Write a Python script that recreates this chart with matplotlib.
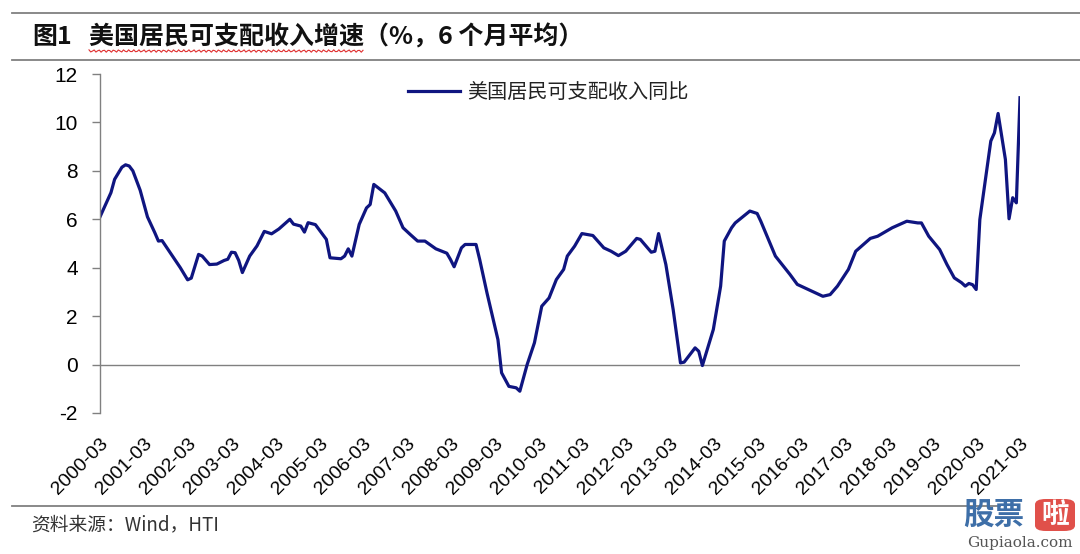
import numpy as np
import matplotlib
matplotlib.use("Agg")
import matplotlib.pyplot as plt
from matplotlib.lines import Line2D
from matplotlib.patches import FancyBboxPatch

plt.rcParams['font.family'] = ['Liberation Sans', 'Noto Sans CJK SC', 'DejaVu Sans']

# ---- data ----
dates = ["2000-03", "2000-06", "2000-07", "2000-09", "2000-10", "2000-11", "2000-12", "2001-02",
         "2001-04", "2001-06", "2001-07",
         "2001-08", "2001-11", "2002-01", "2002-03", "2002-04", "2002-06", "2002-07", "2002-09",
         "2002-11", "2003-01", "2003-02", "2003-03", "2003-04", "2003-05", "2003-06", "2003-08",
         "2003-10", "2003-12", "2004-02", "2004-04", "2004-07", "2004-08", "2004-10", "2004-11",
         "2004-12", "2005-02", "2005-04", "2005-05", "2005-06", "2005-09", "2005-10", "2005-11",
         "2005-12", "2006-02", "2006-04", "2006-05", "2006-06", "2006-09", "2006-12", "2007-02",
         "2007-04", "2007-06", "2007-08", "2007-11", "2008-02", "2008-03", "2008-04", "2008-06",
         "2008-07", "2008-10", "2008-11", "2009-01", "2009-04", "2009-05", "2009-07", "2009-09",
         "2009-10", "2009-12", "2010-02", "2010-04", "2010-06", "2010-08", "2010-09", "2010-10",
         "2010-11", "2011-01", "2011-03", "2011-06", "2011-09", "2011-11", "2012-01", "2012-03",
         "2012-06", "2012-07", "2012-10", "2012-11", "2012-12", "2013-02", "2013-04", "2013-06",
         "2013-07", "2013-10", "2013-11", "2013-12", "2014-03", "2014-05", "2014-06", "2014-08",
         "2014-09", "2015-01", "2015-03", "2015-04", "2015-08", "2015-12", "2016-02", "2016-06",
         "2016-09", "2016-11", "2017-01", "2017-04", "2017-06", "2017-10", "2017-12", "2018-04",
         "2018-08", "2018-11", "2018-12", "2019-02", "2019-05", "2019-07", "2019-09", "2019-11",
         "2019-12", "2020-01", "2020-02", "2020-03", "2020-04", "2020-07", "2020-08", "2020-09",
         "2020-11", "2020-12", "2021-01", "2021-02", "2021-03"]
values = [6.1, 7.1, 7.65, 8.15, 8.25, 8.2, 8.0, 7.2,
          6.1, 5.45, 5.1,
          5.12, 4.45, 4.0, 3.5, 3.57, 4.55, 4.48, 4.13,
          4.15, 4.3, 4.35, 4.64, 4.62, 4.3, 3.8, 4.48,
          4.9, 5.5, 5.4, 5.6, 6.0, 5.8, 5.72, 5.47,
          5.86, 5.78, 5.37, 5.17, 4.41, 4.37, 4.48, 4.78,
          4.48, 5.79, 6.47, 6.61, 7.44, 7.09, 6.34, 5.65,
          5.37, 5.1, 5.1, 4.78, 4.6, 4.34, 4.04, 4.82,
          4.96, 4.96, 4.34, 2.96, 1.03, -0.34, -0.9, -0.96,
          -1.1, 0.0, 0.9, 2.41, 2.75, 3.51, 3.72, 3.93,
          4.48, 4.89, 5.41, 5.33, 4.82, 4.68, 4.5, 4.68,
          5.21, 5.17, 4.64, 4.68, 5.41, 4.13, 2.27, 0.07,
          0.1, 0.69, 0.55, -0.04, 1.45, 3.24, 5.1, 5.65,
          5.85, 6.34, 6.24, 5.92, 4.48, 3.72, 3.31, 3.03,
          2.82, 2.89, 3.24, 3.93, 4.68, 5.21, 5.3, 5.65,
          5.92, 5.85, 5.85, 5.3, 4.75, 4.13, 3.58, 3.38,
          3.24, 3.35, 3.3, 3.1, 5.99, 9.23, 9.57, 10.37,
          8.47, 6.02, 6.89, 6.68, 11.02]
tick_labels = [f"{y}-03" for y in range(2000, 2022)]
yticks = [-2, 0, 2, 4, 6, 8, 10, 12]
series_name = "美国居民可支配收入同比"
title_num = "图1"
title_text = "美国居民可支配收入增速（%，6 个月平均）"
source_text = "资料来源：Wind，HTI"


def month_index(s):
    y, m = s.split("-")
    return (int(y) - 2000) * 12 + int(m) - 3


x = np.array([month_index(d) for d in dates])
tick_pos = [month_index(t) for t in tick_labels]

W, H = 1080, 554
fig = plt.figure(figsize=(W / 100, H / 100), dpi=100)
ax = fig.add_axes([100 / W, 1 - 413 / H, 920 / W, 339 / H])

ax.plot(x, values, color="#0F1580", lw=2.3, label=series_name, solid_joinstyle="round")
ax.axhline(0, color="#808080", lw=1.0, zorder=0)

ax.set_xlim(0, tick_pos[-1])
ax.set_ylim(-2, 12)
ax.set_yticks(yticks)
ax.set_yticklabels([str(v) for v in yticks])
ax.set_xticks(tick_pos)
ax.set_xticklabels(tick_labels, rotation=45, ha="right", va="top", rotation_mode="anchor")
ax.tick_params(axis="x", length=0, pad=16, labelsize=14, labelcolor="#000000")
ax.tick_params(axis="y", direction="out", length=6, width=1, color="#808080",
               pad=10, labelsize=15, labelcolor="#000000")
for s in ["top", "right", "bottom"]:
    ax.spines[s].set_visible(False)
ax.spines["left"].set_color("#808080")
ax.spines["left"].set_linewidth(1.0)

ax.legend(loc="upper left", bbox_to_anchor=(398 / W, 1 - 72 / H), bbox_transform=fig.transFigure,
          frameon=False, borderpad=0, handlelength=2.6, handletextpad=0.35,
          prop={"family": ["Noto Sans CJK SC"], "size": 14.5}, labelcolor="#222222")

# frame lines of the report figure
for yy, x0, x1 in [(13, 12, 1080), (60, 12, 1080), (506, 12, 1000)]:
    fig.add_artist(Line2D([x0 / W, x1 / W], [1 - yy / H, 1 - yy / H], color="#808080", lw=1.3))

cjk = ["Noto Sans CJK SC", "DejaVu Sans"]
fig.text(32 / W, 1 - 37 / H, title_num, fontsize=18, fontweight="bold", family=cjk,
         va="center", ha="left", color="#111111")
fig.text(89 / W, 1 - 37 / H, title_text, fontsize=18, fontweight="bold", family=cjk,
         va="center", ha="left", color="#111111")
# red wavy underline (spell-check mark in the source)
wx = np.linspace(89, 363, 160)
wy = 51 + 1.2 * np.sin(wx * 2 * np.pi / 5)
fig.add_artist(Line2D(wx / W, 1 - wy / H, color="#E03030", lw=0.8))

fig.text(31 / W, 1 - 525 / H, source_text, fontsize=13.5, family=cjk, va="center", ha="left",
         color="#333333")

# watermark
fig.text(963 / W, 1 - 515 / H, "股票", fontsize=22, fontweight="bold", family=cjk,
         va="center", ha="left", color="#3E6FA8")
box = FancyBboxPatch((1035 / W, 1 - 531 / H), 40 / W, 32 / H,
                     boxstyle="round,pad=0,rounding_size=0.01", transform=fig.transFigure,
                     facecolor="#E0504A", edgecolor="none")
fig.add_artist(box)
fig.text(1055 / W, 1 - 515 / H, "啦", fontsize=20, fontweight="bold", family=cjk,
         va="center", ha="center", color="white")
fig.text(1020 / W, 1 - 543 / H, "Gupiaola.com", fontsize=11, family="DejaVu Serif",
         va="center", ha="center", color="#555555")

fig.savefig("out.png", dpi=100)
